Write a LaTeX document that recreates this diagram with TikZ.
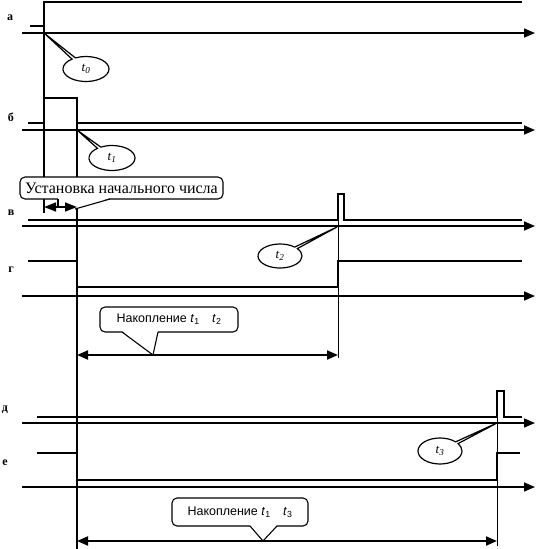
\documentclass[tikz,border=0pt]{standalone}
\usepackage{fontspec}
\setmainfont{Liberation Serif}
\newfontfamily\arialf{Liberation Sans}
\usetikzlibrary{arrows.meta,shapes.callouts,shapes.geometric}
\begin{document}
\begin{tikzpicture}[x=1pt,y=-1pt,
  axis/.style={line width=1.6pt,-{Triangle[length=11pt,width=9pt]}},
  sig/.style={line width=1.6pt},
  tsig/.style={line width=2.4pt},
  guide/.style={line width=1.3pt},
  tguide/.style={line width=0.9pt},
  dimarrow/.style={line width=2pt,{Triangle[length=11pt,width=9pt]}-{Triangle[length=11pt,width=9pt]}},
  smalldim/.style={line width=1.6pt,{Triangle[length=12pt,width=9pt]}-{Triangle[length=12pt,width=9pt]}},
  lab/.style={font=\bfseries\fontsize{12}{12}\selectfont},
  tcall/.style={ellipse callout, draw, line width=1.2pt, fill=white, minimum width=46pt,
    minimum height=25pt, inner sep=0pt, callout pointer arc=10,
    font=\itshape\fontsize{13}{13}\selectfont},
  rbox/.style={draw, line width=1.1pt, fill=white, rounded corners=5pt, inner sep=0pt},
  ptr/.style={line width=1.1pt}
]
\useasboundingbox (0,0) rectangle (536,549);

% row labels
\node[lab] (la) at (10,18) {а};
\node[lab] (lb) at (11,117) {б};
\node[lab] (lv) at (11,213) {в};
\node[lab] (lg) at (11,270) {г};
\node[lab] (ld) at (5,410) {д};
\node[lab] (le) at (5,463) {е};

% guide lines
\draw[guide] (44,2) -- (44,213);
\draw[guide] (77,98) -- (77,549);
\draw[tguide] (338,194) -- (338,358);
\draw[tguide] (497,391) -- (497,546);

% axes
\draw[axis] (22,33) -- (535,33);
\draw[axis] (22,130) -- (535,130);
\draw[axis] (22,226) -- (535,226);
\draw[axis] (22,296) -- (535,296);
\draw[axis] (22,423) -- (535,423);
\draw[axis] (22,487) -- (535,487);

% signals
\draw[sig] (30,26) -- (44,26) -- (44,2) -- (522,2);
\draw[sig] (28,123) -- (44,123) -- (44,98) -- (77,98) -- (77,123) -- (522,123);
\draw[sig] (28,220) -- (338,220) -- (338,194) -- (344,194) -- (344,220) -- (522,220);
\draw[tsig] (28,261) -- (77,261) -- (77,287) -- (338,287) -- (338,261) -- (522,261);
\draw[sig] (37,417) -- (497,417) -- (497,391) -- (504,391) -- (504,417) -- (522,417);
\draw[tsig] (37,453) -- (77,453) -- (77,480) -- (497,480) -- (497,453) -- (520,453);

% time callouts
\coordinate (pa) at (44,33);
\coordinate (pb) at (77,130);
\coordinate (pv) at (337,227);
\coordinate (pd) at (497,423);
\node[tcall, callout absolute pointer={(pa)}] (ca) at (86,69) {t\textsubscript{0}};
\node[tcall, callout absolute pointer={(pb)}] (cb) at (112,158) {t\textsubscript{1}};
\node[tcall, callout absolute pointer={(pv)}, minimum width=44pt, minimum height=24pt] (cv) at (280,256) {t\textsubscript{2}};
\node[tcall, callout absolute pointer={(pd)}, minimum width=44pt, minimum height=26pt] (cd) at (440,451) {t\textsubscript{3}};

% set-up box
\node[rbox, minimum width=203pt, minimum height=22pt, font=\fontsize{16}{16}\selectfont] (ust) at (121.5,188) {Установка начального числа};
\coordinate (ua) at (75,209);
\fill[white] (58,198) -- (58,207) -- (ua) -- (110,198) -- cycle;
\draw[ptr] (58,199) -- (58,207);
\draw[ptr] (110,199) -- (ua);
\coordinate (s1) at (44,207);
\coordinate (s2) at (77,207);
\draw[smalldim] (s1) -- (s2);

% accumulation 1
\coordinate (n1a) at (153,355);
\coordinate (n1l) at (77,355);
\coordinate (n1r) at (338,355);
\draw[dimarrow] (n1l) -- (n1r);
\node[rbox, minimum width=138pt, minimum height=25pt, font=\arialf\fontsize{12.5}{12.5}\selectfont] (n1) at (169,319.5) {Накопление \textit{t}\textsubscript{1}\quad\textit{t}\textsubscript{2}};
\fill[white] (122,331) -- (n1a) -- (158,331) -- cycle;
\draw[ptr] (122,332) -- (n1a) -- (158,332);

% accumulation 2
\coordinate (n2a) at (263,541);
\coordinate (n2l) at (77,541);
\coordinate (n2r) at (497,541);
\draw[dimarrow] (n2l) -- (n2r);
\node[rbox, minimum width=136pt, minimum height=28pt, font=\arialf\fontsize{12.5}{12.5}\selectfont] (n2) at (240,512) {Накопление \textit{t}\textsubscript{1}\quad\textit{t}\textsubscript{3}};
\fill[white] (250,525) -- (n2a) -- (277,525) -- cycle;
\draw[ptr] (250,526) -- (n2a) -- (277,526);
\end{tikzpicture}
\end{document}
